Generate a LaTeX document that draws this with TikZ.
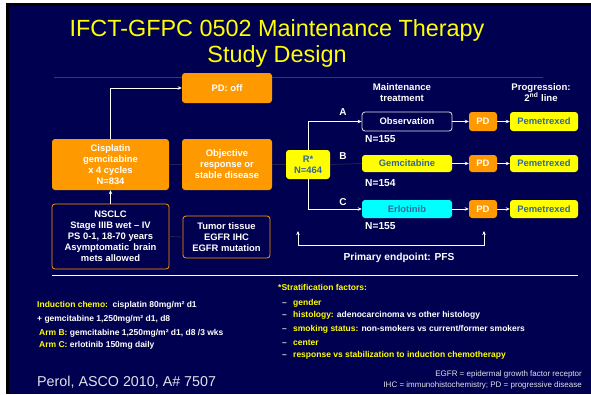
\documentclass[tikz,border=0pt]{standalone}
\usepackage{fontspec}
\setmainfont{Liberation Sans}
\usetikzlibrary{arrows.meta}
\definecolor{navy}{RGB}{0,0,80}
\definecolor{orng}{RGB}{255,153,0}
\definecolor{yel}{RGB}{255,255,0}
\definecolor{cyn}{RGB}{0,255,255}
\definecolor{tealtxt}{RGB}{51,102,153}
\definecolor{redline}{RGB}{204,0,0}
\definecolor{faint}{RGB}{35,35,75}
\definecolor{lgray}{RGB}{225,225,235}
\tikzset{
  box/.style={rounded corners=3pt, inner sep=0pt, align=center, font=\fontsize{9.4}{11}\selectfont\bfseries},
  obox/.style={box, fill=orng, text=white},
  ybox/.style={box, fill=yel, text=tealtxt},
  cbox/.style={box, fill=cyn, text=tealtxt},
  nbox/.style={box, fill=navy, draw=orng, line width=0.8pt, text=white},
  wbox/.style={box, fill=navy, draw=lgray, line width=0.8pt, text=white},
  arr/.style={draw=white, line width=0.8pt, -{Stealth[length=4pt,width=3.5pt]}},
  dimline/.style={draw=faint, line width=0.8pt},
  lbl/.style={text=white, font=\fontsize{9.6}{11}\selectfont\bfseries, inner sep=0pt},
  small/.style={font=\fontsize{8.5}{10}\selectfont\bfseries, inner sep=0pt, text=white},
}
\begin{document}
\begin{tikzpicture}[x=1pt,y=-1pt]
\useasboundingbox (0,0) rectangle (591,394);
\fill[white] (0,0) rectangle (591,394);
\fill[black] (6,3) rectangle (591,394);
\fill[navy] (9,6) rectangle (591,394);
% title
\node[anchor=base, text=yel, font=\fontsize{23.4}{27}\selectfont, inner sep=0pt] (t1) at (277,36) {IFCT-GFPC 0502 Maintenance Therapy};
\node[anchor=base, text=yel, font=\fontsize{23.4}{27}\selectfont, inner sep=0pt] (t2) at (277,62.5) {Study Design};
\coordinate (rl1) at (54,77.5);
\coordinate (rl2) at (543,77.5);
\draw[redline, line width=1.5pt] (rl1) -- (rl2);
% left boxes
\node[obox, minimum width=90pt, minimum height=30pt] (pdoff) at (227,88) {PD: off};
\node[obox, minimum width=117pt, minimum height=51pt] (cis) at (110.5,164.5) {Cisplatin\\gemcitabine\\x 4 cycles\\N=834};
\node[obox, minimum width=90pt, minimum height=51pt] (obj) at (227,164.5) {Objective\\response or\\stable disease};
\node[nbox, minimum width=117pt, minimum height=65pt] (nsclc) at (110.5,236.5) {NSCLC\\Stage IIIB wet -- IV\\PS 0-1, 18-70 years\\Asymptomatic\, brain\\mets allowed};
\node[nbox, minimum width=87pt, minimum height=42pt] (tumor) at (226.5,237) {Tumor tissue\\EGFR IHC\\EGFR mutation};
% right part
\node[ybox, minimum width=44pt, minimum height=29pt] (R) at (308,164.5) {R*\\N=464};
\node[wbox, minimum width=90pt, minimum height=19pt] (obs) at (407,121.5) {Observation};
\node[ybox, minimum width=90pt, minimum height=17pt] (gem) at (407,163.5) {Gemcitabine};
\node[cbox, minimum width=90pt, minimum height=18pt] (erl) at (407,209) {Erlotinib};
\node[obox, minimum width=28pt, minimum height=19pt] (pda) at (483,121.5) {PD};
\node[obox, minimum width=28pt, minimum height=17pt] (pdb) at (483,163.5) {PD};
\node[obox, minimum width=28pt, minimum height=18pt] (pdc) at (483,209) {PD};
\node[ybox, minimum width=68pt, minimum height=19pt] (pema) at (544,121.5) {Pemetrexed};
\node[ybox, minimum width=68pt, minimum height=17pt] (pemb) at (544,163.5) {Pemetrexed};
\node[ybox, minimum width=68pt, minimum height=18pt] (pemc) at (544,209) {Pemetrexed};
% headers
\node[lbl, align=center] (hmt) at (402,92.5) {Maintenance\\treatment};
\node[lbl, align=center] (hpr) at (541,92.5) {Progression:\\2\textsuperscript{nd} line};
\node[lbl, font=\fontsize{10}{11}\selectfont\bfseries] (la) at (343,112) {A};
\node[lbl, font=\fontsize{10}{11}\selectfont\bfseries] (lb) at (343,156) {B};
\node[lbl, font=\fontsize{10}{11}\selectfont\bfseries] (lc) at (343,202) {C};
\node[lbl, anchor=west, font=\fontsize{10.2}{11}\selectfont\bfseries] (na) at (365,139) {N=155};
\node[lbl, anchor=west, font=\fontsize{10.2}{11}\selectfont\bfseries] (nb) at (365,183) {N=154};
\node[lbl, anchor=west, font=\fontsize{10.2}{11}\selectfont\bfseries] (nc) at (365,226) {N=155};
% connectors
\draw[dimline] (cis.east) -- (obj.west);
\draw[dimline] (obj.east) -- (R.west);
\draw[dimline] (nsclc.east) -- (tumor.west);
\draw[dimline] (R.east) -- (gem.west);
\draw[arr] (cis.north) |- (pdoff.west);
\draw[arr] (nsclc.north) -- (cis.south);
\draw[arr] (R.north) |- (obs.west);
\draw[arr] (R.south) |- (erl.west);
\draw[arr] (obs.east) -- (pda.west);
\draw[arr] (gem.east) -- (pdb.west);
\draw[arr] (erl.east) -- (pdc.west);
\draw[arr] (pda.east) -- (pema.west);
\draw[arr] (pdb.east) -- (pemb.west);
\draw[arr] (pdc.east) -- (pemc.west);
% primary endpoint bracket
\coordinate (bt1) at (298,231);
\coordinate (bb1) at (298,245);
\coordinate (bb2) at (484,245);
\coordinate (bt2) at (484,231);
\draw[draw=white, line width=0.8pt, {Stealth[length=4pt,width=3.5pt]}-{Stealth[length=4pt,width=3.5pt]}] (bt1) -- (bb1) -- (bb2) -- (bt2);
\node[lbl, font=\fontsize{10.2}{11}\selectfont\bfseries] (pe) at (399,258) {Primary endpoint: PFS};
% separator
\coordinate (wl1) at (52,275);
\coordinate (wl2) at (578,275);
\draw[white, line width=0.8pt] (wl1) -- (wl2);
% bottom left texts
\node[small, anchor=base west] (i1) at (37,307) {\textcolor{yel}{Induction chemo:}\, cisplatin 80mg/m² d1};
\node[small, anchor=base west] (i2) at (37,321) {+ gemcitabine 1,250mg/m² d1, d8};
\node[small, anchor=base west] (i3) at (39,335) {\textcolor{yel}{Arm B:} gemcitabine 1,250mg/m² d1, d8 /3 wks};
\node[small, anchor=base west] (i4) at (39,347) {\textcolor{yel}{Arm C:} erlotinib 150mg daily};
\node[anchor=base west, inner sep=0pt, text=lgray, font=\fontsize{14.3}{16}\selectfont] (ref) at (37,386) {Perol, ASCO 2010, A\# 7507};
% stratification
\node[small, anchor=base west, text=yel] (s0) at (278,290) {*Stratification factors:};
\foreach \yy/\nm in {305/d1, 317/d2, 331/d3, 345/d4, 357/d5}{
  \node[small, anchor=base west, text=lgray] (\nm) at (282,\yy) {--};
}
\node[small, anchor=base west, text=yel] (s1) at (293,305) {gender};
\node[small, anchor=base west] (s2) at (293,317) {\textcolor{yel}{histology:} adenocarcinoma vs other histology};
\node[small, anchor=base west] (s3) at (293,331) {\textcolor{yel}{smoking status:} non-smokers vs current/former smokers};
\node[small, anchor=base west, text=yel] (s4) at (293,345) {center};
\node[small, anchor=base west, text=yel] (s5) at (293,357) {response vs stabilization to induction chemotherapy};
\node[anchor=base east, inner sep=0pt, text=lgray, font=\fontsize{8}{9}\selectfont] (e1) at (582,376) {EGFR = epidermal growth factor receptor};
\node[anchor=base east, inner sep=0pt, text=lgray, font=\fontsize{8}{9}\selectfont] (e2) at (582,387) {IHC = immunohistochemistry; PD = progressive disease};
\end{tikzpicture}
\end{document}
